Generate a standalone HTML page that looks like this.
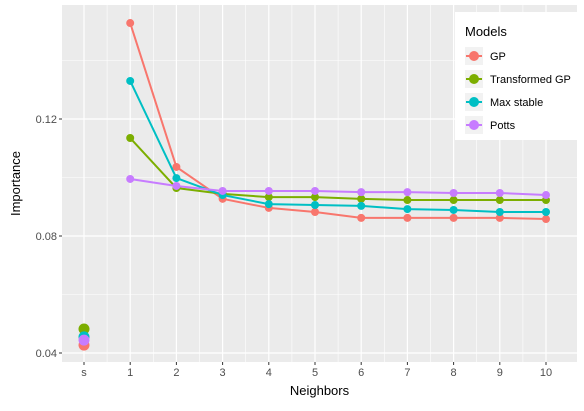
<!DOCTYPE html>
<html><head><meta charset="utf-8"><style>
body{margin:0;background:#fff;font-family:"Liberation Sans",Arial,sans-serif}
svg text{font-family:"Liberation Sans",Arial,sans-serif}
</style></head><body>
<svg id="chart" width="584" height="406" xmlns="http://www.w3.org/2000/svg"></svg>
<script>
const categories=["s","1","2","3","4","5","6","7","8","9","10"];
const seriesNames=["GP","Transformed GP","Max stable","Potts"];
const colors=["#F8766D","#7CAE00","#00BFC4","#C77CFF"];
const gpValues=[0.0427,0.1528,0.1036,0.0927,0.0896,0.0882,0.0862,0.0862,0.0862,0.0862,0.0858];
const tgpValues=[0.0482,0.1135,0.0964,0.0944,0.0933,0.0933,0.0927,0.0923,0.0923,0.0923,0.0923];
const maxStableValues=[0.0455,0.133,0.0998,0.094,0.0909,0.0906,0.0903,0.0892,0.0889,0.0882,0.0882];
const pottsValues=[0.0444,0.0995,0.0971,0.0954,0.0954,0.0954,0.095,0.095,0.0947,0.0947,0.094];
const yTicks=[0.04,0.08,0.12];
const yMinor=[0.06,0.10,0.14];
const allSeries=[gpValues,tgpValues,maxStableValues,pottsValues];
const ns="http://www.w3.org/2000/svg";
const svg=document.getElementById("chart");
const L=62,R=577,T=5,B=362;
const xs=i=>84+i*46.2;
const ys=v=>353-(v-0.04)*2925;
function mk(tag,attrs,parent){const e=document.createElementNS(ns,tag);for(const k in attrs)e.setAttribute(k,attrs[k]);(parent||svg).appendChild(e);return e;}
const panel=mk("rect",{x:L,y:T,width:R-L,height:B-T,fill:"#EBEBEB"});


yMinor.forEach(v=>{const l=mk("line",{x1:L,x2:R,y1:ys(v),y2:ys(v),stroke:"#fff","stroke-width":0.6});

});
categories.forEach((c,i)=>{if(i<categories.length-1){const l=mk("line",{x1:xs(i)+23.1,x2:xs(i)+23.1,y1:T,y2:B,stroke:"#fff","stroke-width":0.6});

}});
yTicks.forEach(v=>{const l=mk("line",{x1:L,x2:R,y1:ys(v),y2:ys(v),stroke:"#fff","stroke-width":1.2});


mk("line",{x1:L-3,x2:L,y1:ys(v),y2:ys(v),stroke:"#333"});
const t=mk("text",{x:L-5,y:ys(v)+4,"text-anchor":"end","font-size":11,fill:"#4D4D4D"});t.textContent=v.toFixed(2);

});
categories.forEach((c,i)=>{const l=mk("line",{x1:xs(i),x2:xs(i),y1:T,y2:B,stroke:"#fff","stroke-width":1.2});


mk("line",{x1:xs(i),x2:xs(i),y1:B,y2:B+3,stroke:"#333"});
const t=mk("text",{x:xs(i),y:B+14,"text-anchor":"middle","font-size":11,fill:"#4D4D4D"});t.textContent=c;

});
allSeries.forEach((vals,s)=>{
const pts=vals.slice(1).map((v,i)=>xs(i+1)+","+ys(v)).join(" ");
const pl=mk("polyline",{points:pts,fill:"none",stroke:colors[s],"stroke-width":2});


vals.forEach((v,i)=>{const c=mk("circle",{cx:xs(i),cy:ys(v),r:i==0?5.5:4,fill:colors[s]});

});});
const xt=mk("text",{x:(L+R)/2,y:395,"text-anchor":"middle","font-size":13,fill:"#000"});xt.textContent="Neighbors";


const yt=mk("text",{x:0,y:0,"text-anchor":"middle","font-size":13,fill:"#000",transform:"translate(20,"+((T+B)/2)+") rotate(-90)"});yt.textContent="Importance";


const lg=mk("g",{});


mk("rect",{x:455,y:12,width:122,height:128,fill:"#fff"},lg);
const lt=mk("text",{x:465,y:36,"font-size":13,fill:"#000"},lg);lt.textContent="Models";
seriesNames.forEach((n,i)=>{const y=56+i*23;
const g=mk("g",{},lg);


mk("rect",{x:465,y:y-9,width:18,height:18,fill:"#F2F2F2"},g);
mk("line",{x1:466,x2:482,y1:y,y2:y,stroke:colors[i],"stroke-width":2},g);
mk("circle",{cx:474,cy:y,r:5,fill:colors[i]},g);
const t=mk("text",{x:490,y:y+4,"font-size":11,fill:"#000"},g);t.textContent=n;});
</script>
</body></html>
